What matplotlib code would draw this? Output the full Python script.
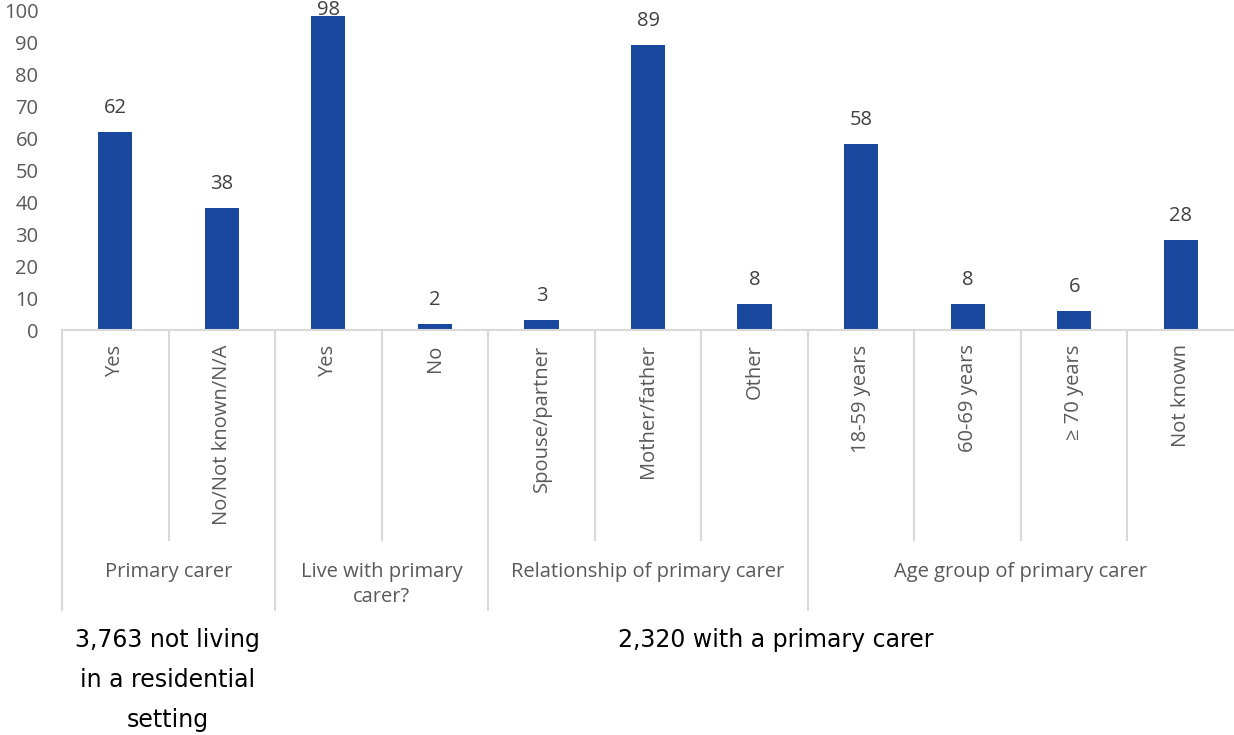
import matplotlib.pyplot as plt
from matplotlib.transforms import blended_transform_factory

# Data (percentages)
categories = ['Yes', 'No/Not known/N/A', 'Yes', 'No', 'Spouse/partner', 'Mother/father',
              'Other', '18-59 years', '60-69 years', '\u2265 70 years', 'Not known']
values = [62, 38, 98, 2, 3, 89, 8, 58, 8, 6, 28]
groups = ['Primary carer', 'Live with primary\ncarer?', 'Relationship of primary carer',
          'Age group of primary carer']
group_sizes = [2, 2, 3, 4]
notes = ['3,763 not living\nin a residential\nsetting', '2,320 with a primary carer']

bar_color = '#1A489E'
grey = '#595959'
line_color = '#D9D9D9'
plt.rcParams['font.family'] = ['Open Sans', 'DejaVu Sans']

fig = plt.figure(figsize=(12.34, 7.35), dpi=100)
ax = fig.add_axes([62 / 1234, 1 - 330 / 735, 1 - 62 / 1234, 320 / 735])

x = list(range(len(values)))
bars = ax.bar(x, values, width=0.32, color=bar_color, zorder=2)
# labels above bars; the tallest one gets pushed down to the top of the plot
for xi, v in zip(x, values):
    ax.text(xi, min(v + 7.5, 100), str(v), ha='center', va='center', fontsize=14.5,
            color='#404040', zorder=1, clip_on=False)

ax.set_xlim(-0.5, len(values) - 0.5)
ax.set_ylim(0, 100)
ax.set_yticks(range(0, 101, 10))
ax.tick_params(axis='y', length=0, labelsize=14.5, labelcolor=grey, pad=17)
ax.set_xticks([])
for s in ['top', 'right', 'left']:
    ax.spines[s].set_visible(False)
ax.spines['bottom'].set_color(line_color)
ax.spines['bottom'].set_linewidth(1.5)

tr = blended_transform_factory(ax.transData, ax.transAxes)

# inner category labels
for xi, lab in zip(x, categories):
    ax.text(xi, -0.045, lab, rotation=90, ha='center', va='top', fontsize=14.5,
            color=grey, transform=tr)

# separators and group labels
start = 0
group_edges = [-0.5]
for g, n in zip(groups, group_sizes):
    for k in range(1, n):
        ax.plot([start + k - 0.5] * 2, [0, -0.656], color=line_color, lw=1.5,
                transform=tr, clip_on=False)
    center = start + (n - 1) / 2
    ax.text(center, -0.725, g, ha='center', va='top', fontsize=14.5, color=grey,
            transform=tr, linespacing=1.35)
    start += n
    group_edges.append(start - 0.5)
for e in group_edges[:-1]:
    ax.plot([e, e], [0, -0.875], color=line_color, lw=1.5, transform=tr, clip_on=False)

# notes below the chart
note_font = ['Liberation Sans Narrow', 'DejaVu Sans']
ax.text(0.49, -0.93, notes[0], ha='center', va='top', fontsize=17, color='black',
        transform=tr, linespacing=1.84, family=note_font)
ax.text(6.2, -0.93, notes[1], ha='center', va='top', fontsize=17, color='black',
        transform=tr, family=note_font)

fig.savefig('out.png', dpi=100)
